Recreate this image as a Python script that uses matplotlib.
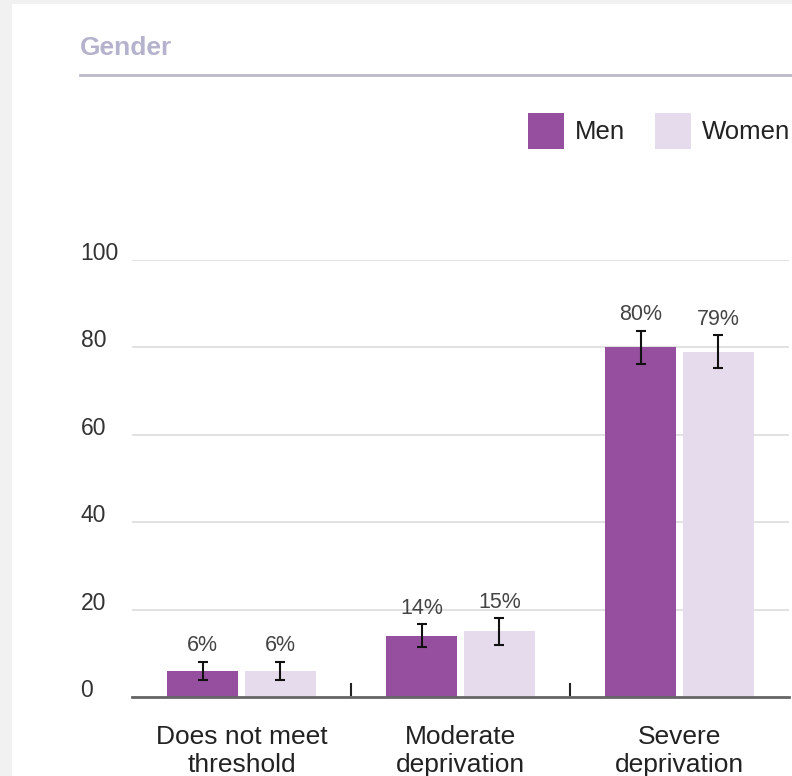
import matplotlib
matplotlib.use("Agg")
import matplotlib.pyplot as plt
import numpy as np
from matplotlib.patches import Rectangle, Patch
from matplotlib.lines import Line2D

categories = ["Does not meet\nthreshold", "Moderate\ndeprivation", "Severe\ndeprivation"]
series_names = ["Men", "Women"]
men = [6, 14, 80]
women = [6, 15, 79]
men_err = [2.0, 2.6, 3.8]
women_err = [2.0, 3.0, 3.8]
yticks = [0, 20, 40, 60, 80, 100]

men_color = "#954f9e"
women_color = "#e6dbed"

plt.rcParams['font.family'] = ['Liberation Sans', 'DejaVu Sans']

W, H = 792, 776
fig = plt.figure(figsize=(W / 100, H / 100), dpi=100)
fig.patch.set_facecolor("#f1f1f1")
fig.patches.append(Rectangle((12 / W, 0), 1, 1 - 4 / H, transform=fig.transFigure,
                             facecolor="white", edgecolor="none", zorder=-5))

ax = fig.add_axes([132 / W, 79 / H, (789 - 132) / W, (697 - 260) / H])
ax.set_facecolor("white")
ax.set_zorder(1)

x = np.arange(len(categories))
bw = 0.324
off = 0.178
ax.bar(x - off, men, width=bw, color=men_color, zorder=2)
ax.bar(x + off, women, width=bw, color=women_color, zorder=2)
ek = dict(fmt="none", ecolor="#111111", elinewidth=1.5, capsize=3.5, capthick=1.5, zorder=3)
ax.errorbar(x - off, men, yerr=men_err, **ek)
ax.errorbar(x + off, women, yerr=women_err, **ek)

for xi, v, e in zip(x - off, men, men_err):
    ax.annotate(f"{v}%", (xi, v + e), xytext=(0, 4), textcoords="offset points",
                ha="center", va="bottom", fontsize=15.5, color="#444444")
for xi, v, e in zip(x + off, women, women_err):
    ax.annotate(f"{v}%", (xi, v + e), xytext=(0, 4), textcoords="offset points",
                ha="center", va="bottom", fontsize=15.5, color="#444444")

ax.set_xlim(-0.5, len(categories) - 0.5)
ax.set_ylim(0, 100)
ax.set_yticks(yticks)
ax.set_yticklabels([str(t) for t in yticks])
ax.tick_params(axis="y", length=0, pad=37, labelsize=16.5, labelcolor="#333333")
for lab in ax.get_yticklabels():
    lab.set_ha("left")
    lab.set_va("baseline")
ax.yaxis.grid(True, color="#dddddd", linewidth=1.2, zorder=0)
ax.set_axisbelow(True)

ax.set_xticks(x)
ax.set_xticklabels(categories)
ax.tick_params(axis="x", length=0, pad=20, labelsize=19, labelcolor="#222222")
ax.set_xticks([0.5, 1.5], minor=True)
ax.tick_params(axis="x", which="minor", direction="in", length=10, width=1.5, color="#222222")

for s in ["top", "right", "left"]:
    ax.spines[s].set_visible(False)
ax.spines["bottom"].set_color("#666666")
ax.spines["bottom"].set_linewidth(2)
ax.spines["bottom"].set_zorder(4)

fig.text(80 / W, 1 - 48 / H, "Gender", fontsize=19, fontweight="bold", color="#b4b2cc",
         ha="left", va="center")
fig.add_artist(Line2D([80 / W, 1], [1 - 75 / H, 1 - 75 / H], transform=fig.transFigure,
                      color="#bcb9cc", linewidth=2))

handles = [Patch(facecolor=men_color, edgecolor="none"),
           Patch(facecolor=women_color, edgecolor="none")]
fig.legend(handles, series_names, loc="center right", bbox_to_anchor=(813 / W, 1 - 131 / H),
           ncol=2, frameon=False, fontsize=18.5, handlelength=1.4, handleheight=1.8,
           handletextpad=0.4, columnspacing=1.2, labelcolor="#222222")

fig.savefig("out.png", dpi=100, facecolor=fig.get_facecolor())
